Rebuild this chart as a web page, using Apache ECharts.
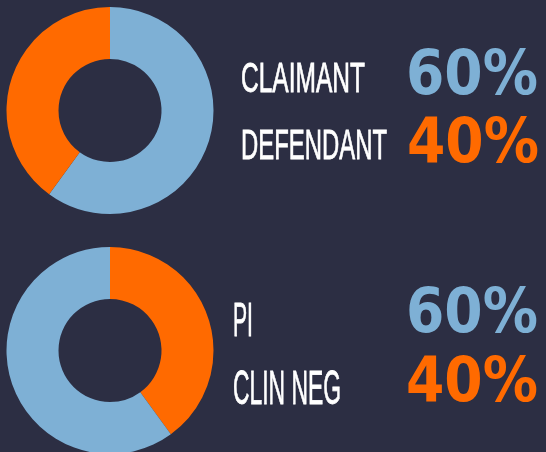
<!DOCTYPE html>
<html lang="en">
<head>
<meta charset="UTF-8">
<title>Claimant / Defendant split</title>
<script src="https://cdn.jsdelivr.net/npm/echarts@6/dist/echarts.min.js"></script>
<style>
html, body { margin: 0; padding: 0; background: #2c2e43; }
#cc { width: 546px; height: 452px; }
</style>
</head>
<body>
<div id="cc"></div>
<script>
// data
var partyNames = ['CLAIMANT', 'DEFENDANT'];
var partyValues = [60, 40];
var typeNames = ['PI', 'CLIN NEG'];
var typeValues = [60, 40];

var BG = '#2c2e43';
var BLUE = '#7eb0d5';
var ORANGE = '#ff6a00';
var LABEL_FONT = 'Liberation Sans';
var VALUE_FONT = 'DejaVu Sans';

var chart = echarts.init(document.getElementById('cc'));

// squeeze text horizontally so it fills a given width (condensed look)
var ctx = document.createElement('canvas').getContext('2d');
function fit(text, font, width) {
    ctx.font = font;
    return width / ctx.measureText(text).width;
}

function label(text, x, y, size, width) {
    var font = 'normal ' + size + 'px "' + LABEL_FONT + '"';
    return {
        type: 'text', x: x, y: y, scaleX: fit(text, font, width), silent: true,
        style: {
            text: text, font: font, fill: '#ffffff', stroke: '#ffffff', lineWidth: 0.8,
            align: 'left', verticalAlign: 'middle', textAlign: 'left', textVerticalAlign: 'middle'
        }
    };
}

function pct(value, color, x, y) {
    var text = value + '%';
    var font = 'bold 62px "' + VALUE_FONT + '"';
    return {
        type: 'text', x: x, y: y, scaleX: fit(text, font, 132), silent: true,
        style: {
            text: text, font: font, fill: color,
            align: 'left', verticalAlign: 'middle', textAlign: 'left', textVerticalAlign: 'middle'
        }
    };
}

function donut(cy, data) {
    return {
        type: 'pie',
        center: [110, cy],
        radius: [51.5, 103.5],
        startAngle: 90,
        clockwise: true,
        silent: true,
        animation: false,
        label: { show: false },
        labelLine: { show: false },
        itemStyle: { borderWidth: 0 },
        data: data
    };
}

chart.setOption({
    backgroundColor: BG,
    animation: false,
    series: [
        donut(110.5, [
            { name: partyNames[0], value: partyValues[0], itemStyle: { color: BLUE } },
            { name: partyNames[1], value: partyValues[1], itemStyle: { color: ORANGE } }
        ]),
        donut(350.5, [
            { name: typeNames[1], value: typeValues[1], itemStyle: { color: ORANGE } },
            { name: typeNames[0], value: typeValues[0], itemStyle: { color: BLUE } }
        ])
    ],
    graphic: [
        label(partyNames[0], 241, 80, 42, 124),
        label(partyNames[1], 241, 147, 42, 146),
        label(typeNames[0], 233, 322, 49, 20),
        label(typeNames[1], 233, 390, 49, 108),
        pct(partyValues[0], BLUE, 406, 78),
        pct(partyValues[1], ORANGE, 407, 146),
        pct(typeValues[0], BLUE, 406, 316),
        pct(typeValues[1], ORANGE, 406, 385)
    ]
});
</script>
</body>
</html>
